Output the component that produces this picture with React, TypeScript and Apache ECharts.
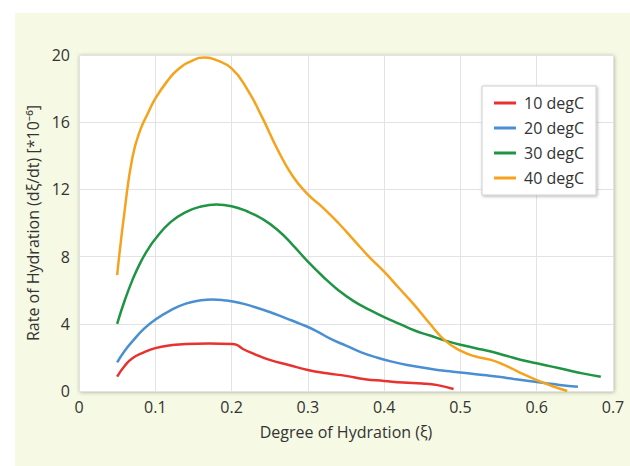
import React, { useEffect, useRef } from "react";
import * as echarts from "echarts";

const seriesNames = ["10 degC", "20 degC", "30 degC", "40 degC"];
const seriesColors = ["#e8322f", "#4a8fd2", "#1f9443", "#f5a31c"];

const red10: [number, number][] = [
  [0.05, 0.85], [0.06, 1.5], [0.07, 1.95], [0.085, 2.3], [0.1, 2.55], [0.12, 2.72],
  [0.14, 2.8], [0.17, 2.82], [0.2, 2.8], [0.206, 2.76], [0.215, 2.5], [0.23, 2.2],
  [0.25, 1.85], [0.275, 1.55], [0.3, 1.25], [0.325, 1.05], [0.35, 0.9], [0.375, 0.7],
  [0.4, 0.6], [0.425, 0.5], [0.45, 0.45], [0.47, 0.35], [0.491, 0.12],
];
const blue20: [number, number][] = [
  [0.05, 1.7], [0.06, 2.4], [0.07, 2.95], [0.085, 3.7], [0.1, 4.25], [0.12, 4.8],
  [0.14, 5.2], [0.16, 5.4], [0.175, 5.45], [0.19, 5.4], [0.21, 5.25], [0.23, 5.0],
  [0.25, 4.7], [0.27, 4.35], [0.29, 4.0], [0.31, 3.6], [0.33, 3.1], [0.35, 2.7],
  [0.37, 2.3], [0.39, 2.0], [0.41, 1.75], [0.43, 1.55], [0.45, 1.4], [0.47, 1.25],
  [0.49, 1.15], [0.51, 1.05], [0.53, 0.95], [0.55, 0.85], [0.57, 0.72], [0.59, 0.6],
  [0.61, 0.48], [0.63, 0.36], [0.654, 0.25],
];
const green30: [number, number][] = [
  [0.05, 4.0], [0.06, 5.4], [0.07, 6.6], [0.08, 7.6], [0.09, 8.4], [0.1, 9.05],
  [0.12, 10.05], [0.14, 10.65], [0.16, 10.98], [0.18, 11.1], [0.2, 11.0], [0.22, 10.7],
  [0.24, 10.25], [0.26, 9.6], [0.28, 8.7], [0.3, 7.7], [0.32, 6.8], [0.34, 6.0],
  [0.36, 5.35], [0.38, 4.85], [0.4, 4.4], [0.42, 4.0], [0.44, 3.6], [0.46, 3.3],
  [0.48, 3.0], [0.5, 2.75], [0.52, 2.55], [0.54, 2.35], [0.56, 2.1], [0.58, 1.85],
  [0.6, 1.65], [0.62, 1.45], [0.64, 1.25], [0.66, 1.05], [0.684, 0.85],
];
const orange40: [number, number][] = [
  [0.05, 6.9], [0.06, 10.8], [0.07, 13.9], [0.08, 15.5], [0.09, 16.5], [0.1, 17.4],
  [0.115, 18.4], [0.13, 19.15], [0.15, 19.7], [0.165, 19.85], [0.18, 19.7], [0.2, 19.2],
  [0.22, 18.0], [0.24, 16.3], [0.26, 14.4], [0.28, 12.8], [0.3, 11.7], [0.32, 10.9],
  [0.34, 10.0], [0.36, 9.0], [0.38, 8.0], [0.4, 7.1], [0.42, 6.1], [0.44, 5.1],
  [0.46, 4.0], [0.48, 3.0], [0.5, 2.4], [0.52, 2.05], [0.54, 1.85], [0.56, 1.5],
  [0.58, 1.05], [0.6, 0.65], [0.62, 0.3], [0.64, 0.0],
];
const allSeries = [red10, blue20, green30, orange40];

const xAxisTitle = "Degree of Hydration (ξ)";
const yAxisTitle = "Rate of Hydration (dξ/dt) [*10⁻⁶]";

const FONT = "'Open Sans', 'Noto Sans', sans-serif";

export default function App() {
  const ref = useRef<HTMLDivElement>(null);
  useEffect(() => {
    document.body.style.margin = "0";
    if (!ref.current) return;
    const chart = echarts.init(ref.current, null, { renderer: "svg" });
    chart.setOption({
      animation: false,
      textStyle: { fontFamily: FONT },
      grid: {
        left: 79,
        right: 17,
        top: 55,
        bottom: 75,
        show: true,
        backgroundColor: "#ffffff",
        borderWidth: 0,
        shadowColor: "rgba(0,0,0,0.35)",
        shadowBlur: 4,
        shadowOffsetX: 1,
        shadowOffsetY: 1,
      },
      legend: {
        orient: "vertical",
        left: 482,
        top: 86,
        backgroundColor: "#ffffff",
        borderColor: "#cfcfcf",
        borderWidth: 1,
        shadowColor: "rgba(0,0,0,0.3)",
        shadowBlur: 3,
        shadowOffsetX: 1,
        shadowOffsetY: 1,
        padding: [9, 12, 9, 12],
        itemGap: 9,
        itemWidth: 22,
        itemHeight: 3,
        icon: "rect",
        textStyle: { fontSize: 16, color: "#333", fontFamily: FONT, padding: [0, 0, 0, 3] },
        data: seriesNames,
      },
      xAxis: {
        type: "value",
        min: 0,
        max: 0.7,
        interval: 0.1,
        name: xAxisTitle,
        nameLocation: "middle",
        nameGap: 33,
        nameTextStyle: { fontSize: 16, color: "#333", fontFamily: FONT },
        axisLine: { show: false },
        axisTick: { show: false },
        axisLabel: { fontSize: 16, color: "#333", margin: 8, fontFamily: FONT },
        splitLine: { show: true, lineStyle: { color: "#e3e3e3", width: 1 } },
      },
      yAxis: {
        type: "value",
        min: 0,
        max: 20,
        interval: 4,
        name: yAxisTitle,
        nameLocation: "middle",
        nameGap: 35,
        nameTextStyle: { fontSize: 16, color: "#333", fontFamily: FONT },
        axisLine: { show: false },
        axisTick: { show: false },
        axisLabel: { fontSize: 16, color: "#333", margin: 9, fontFamily: FONT },
        splitLine: { show: true, lineStyle: { color: "#e3e3e3", width: 1 } },
      },
      series: allSeries.map((d, i) => ({
        name: seriesNames[i],
        type: "line",
        data: d,
        smooth: 0.5,
        showSymbol: false,
        symbol: "none",
        lineStyle: { color: seriesColors[i], width: 2.5 },
        itemStyle: { color: seriesColors[i] },
      })),
    });
    return () => chart.dispose();
  }, []);
  return (
    <div style={{ position: "relative", width: 630, height: 466, background: "#ffffff" }}>
      <div
        style={{
          position: "absolute",
          left: 15,
          top: 13,
          right: 0,
          bottom: 0,
          background: "#f6f9e3",
        }}
      />
      <div ref={ref} style={{ position: "absolute", left: 0, top: 0, width: 630, height: 466 }} />
    </div>
  );
}
